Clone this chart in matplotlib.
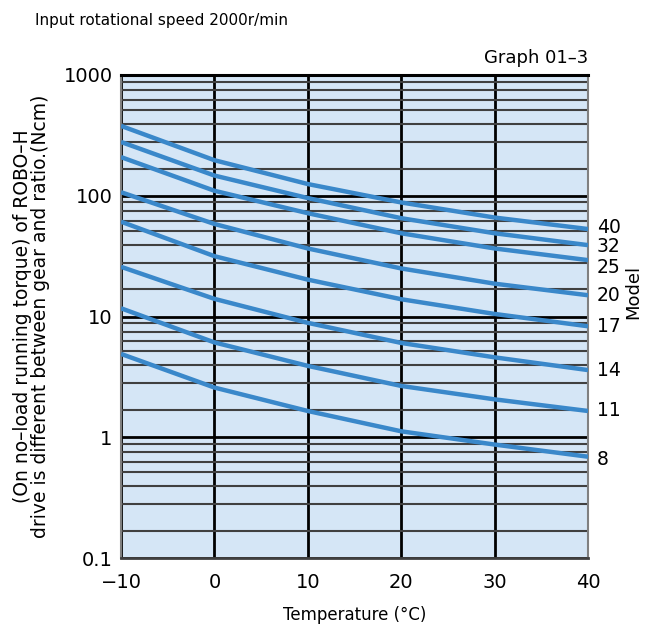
import matplotlib
matplotlib.use("Agg")
import matplotlib.pyplot as plt
from matplotlib.ticker import FixedLocator, NullFormatter

# data (torque in Ncm at each temperature)
temps = [-10, 0, 10, 20, 30, 40]
models = ["40", "32", "25", "20", "17", "14", "11", "8"]
torque_40 = [379, 197, 125, 88, 66, 53]
torque_32 = [279, 147, 95.7, 65.2, 48.9, 39]
torque_25 = [209, 110, 71.7, 48.9, 36.6, 29.3]
torque_20 = [107, 58.4, 36.6, 25, 18.7, 15]
torque_17 = [61, 31.6, 20.2, 13.9, 10.5, 8.3]
torque_14 = [25.8, 14.0, 8.86, 6.04, 4.59, 3.6]
torque_11 = [11.7, 6.1, 3.9, 2.66, 2.06, 1.65]
torque_8 = [4.9, 2.58, 1.65, 1.12, 0.87, 0.69]
series = [torque_40, torque_32, torque_25, torque_20,
          torque_17, torque_14, torque_11, torque_8]

x_ticks = [-10, 0, 10, 20, 30, 40]
x_tick_labels = ["\u221210", "0", "10", "20", "30", "40"]
y_ticks = [0.1, 1, 10, 100, 1000]
y_tick_labels = ["0.1", "1", "10", "100", "1000"]

# style
BG = "#D5E6F6"
CURVE = "#3A88CA"
FONT = "DejaVu Sans"
# minor grid lines in the source chart sit at these multiples of each decade
minor_mult = [1.68, 2.80, 3.94, 5.14, 6.22, 7.50, 8.81]
label_nudge = [1, -1, -5, 0, 0, 0, 0, -2]  # points

plt.rcParams["font.family"] = FONT

fig = plt.figure(figsize=(6.49, 6.28), dpi=100)
ax = fig.add_axes([121 / 649, 70 / 628, 467 / 649, 483 / 628])
ax.set_facecolor(BG)
ax.set_yscale("log")
ax.set_xlim(-10, 40)
ax.set_ylim(0.1, 1000)

minor_locs = [m * 10.0 ** d for d in range(-1, 3) for m in minor_mult]
ax.yaxis.set_minor_locator(FixedLocator(minor_locs))
ax.yaxis.set_minor_formatter(NullFormatter())
ax.yaxis.set_major_locator(FixedLocator(y_ticks))
ax.set_yticks(y_ticks)
ax.set_yticklabels(y_tick_labels)
ax.set_xticks(x_ticks)
ax.set_xticklabels(x_tick_labels)

ax.grid(True, which="minor", axis="y", color="#404040", linewidth=1.5)
ax.grid(True, which="major", axis="y", color="#000000", linewidth=2.0)
ax.grid(True, which="major", axis="x", color="#000000", linewidth=2.0)
ax.set_axisbelow(True)

ax.tick_params(which="both", length=0)
ax.tick_params(axis="y", labelsize=14, pad=6)
ax.tick_params(axis="x", labelsize=14, pad=11)

for side in ("left", "right"):
    ax.spines[side].set_color("#808080")
    ax.spines[side].set_linewidth(1.5)
ax.spines["top"].set_color("#000000")
ax.spines["top"].set_linewidth(2.2)
ax.spines["bottom"].set_color("#404040")
ax.spines["bottom"].set_linewidth(2.0)

for name, vals, nudge in zip(models, series, label_nudge):
    ax.plot(temps, vals, color=CURVE, linewidth=3.2, solid_capstyle="butt",
            zorder=3, clip_on=True)
    ax.annotate(name, xy=(temps[-1], vals[-1]), xytext=(6.5, nudge),
                textcoords="offset points", ha="left", va="center",
                fontsize=13.5, annotation_clip=False)

fig.text(633 / 649, 1 - 292 / 628, "Model", rotation=90, ha="center",
         va="center", fontsize=13)
fig.text(35 / 649, 1 - 20 / 628, "Input rotational speed 2000r/min",
         ha="left", va="center", fontsize=11)
fig.text(588 / 649, 1 - 58 / 628, "Graph 01\u20133", ha="right",
         va="center", fontsize=13)

ax.set_xlabel("Temperature (\u00b0C)", fontsize=12, labelpad=10)
ax.set_ylabel("(On no\u2013load running torque) of ROBO\u2013H\n"
              "drive is different between gear and ratio.(Ncm)",
              fontsize=13.5, linespacing=0.92)
ax.yaxis.set_label_coords((50 - 121) / 467, 0.5)

fig.savefig("out.png", dpi=100)
